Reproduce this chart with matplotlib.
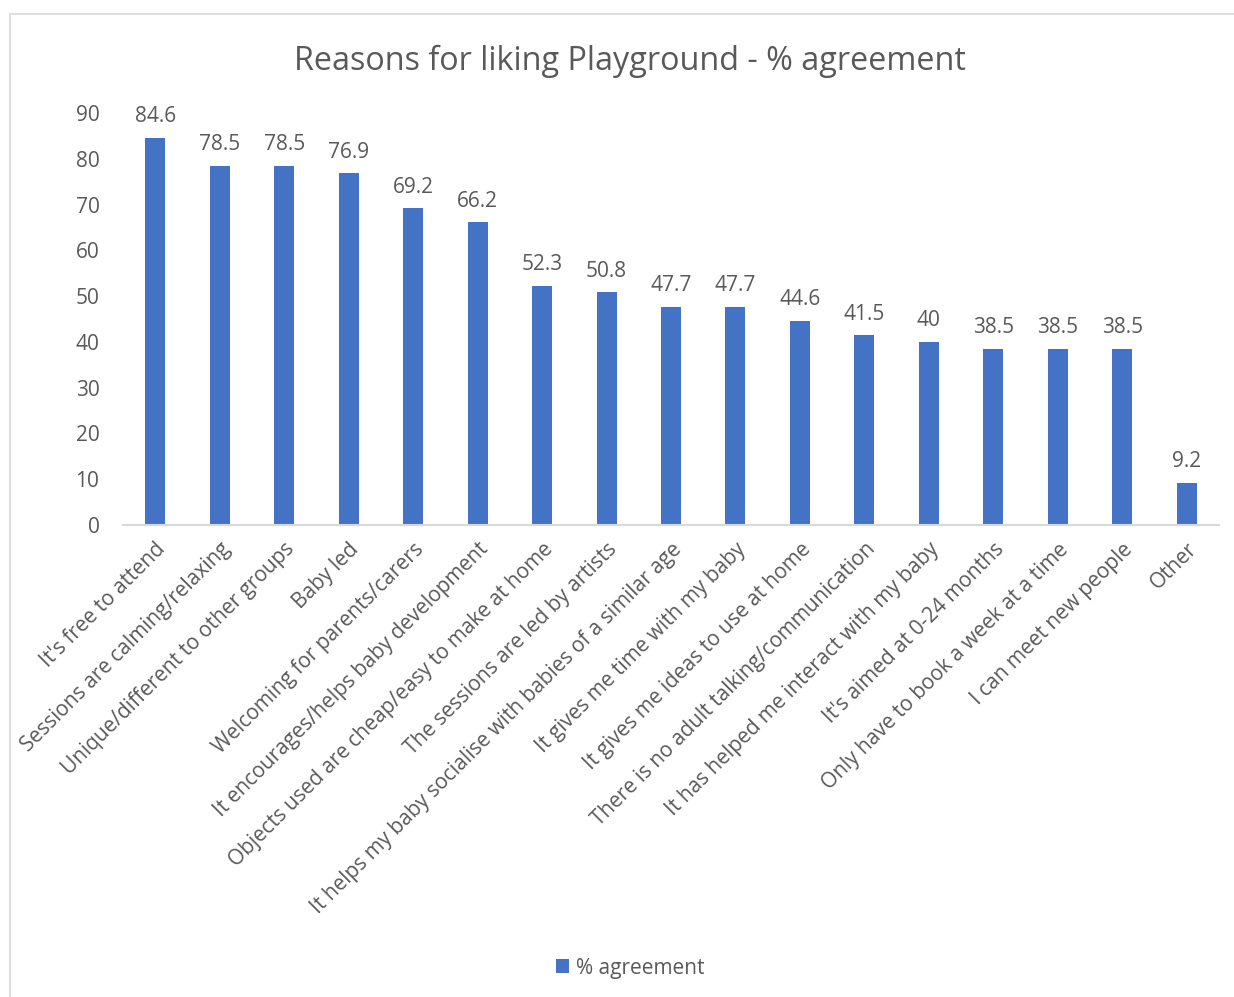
import matplotlib.pyplot as plt
import matplotlib.transforms as mtransforms
from matplotlib.patches import Rectangle

plt.rcParams['font.family'] = ['Open Sans', 'DejaVu Sans']

reasons = [
    "It's free to attend",
    "Sessions are calming/relaxing",
    "Unique/different to other groups",
    "Baby led",
    "Welcoming for parents/carers",
    "It encourages/helps baby development",
    "Objects used are cheap/easy to make at home",
    "The sessions are led by artists",
    "It helps my baby socialise with babies of a similar age",
    "It gives me time with my baby",
    "It gives me ideas to use at home",
    "There is no adult talking/communication",
    "It has helped me interact with my baby",
    "It's aimed at 0-24 months",
    "Only have to book a week at a time",
    "I can meet new people",
    "Other",
]
agreement = [84.6, 78.5, 78.5, 76.9, 69.2, 66.2, 52.3, 50.8, 47.7, 47.7,
             44.6, 41.5, 40, 38.5, 38.5, 38.5, 9.2]
value_labels = ["84.6", "78.5", "78.5", "76.9", "69.2", "66.2", "52.3", "50.8",
                "47.7", "47.7", "44.6", "41.5", "40", "38.5", "38.5", "38.5", "9.2"]
yticks = [0, 10, 20, 30, 40, 50, 60, 70, 80, 90]

text_grey = '#595959'
bar_blue = '#4472C4'
fs = 15

fig = plt.figure(figsize=(12.34, 9.97), dpi=100)
fig.patch.set_facecolor('white')

# chart border (left and top edges visible)
fig.patches.append(Rectangle((10 / 1234, -0.2), 2.0, 1.2 - 14 / 997,
                             transform=fig.transFigure, fill=False,
                             edgecolor='#d9d9d9', linewidth=1.2))

ax = fig.add_axes([123 / 1234, 1 - 525 / 997, (1219 - 123) / 1234, (525 - 113) / 997])

x = list(range(len(reasons)))
bars = ax.bar(x, agreement, width=0.31, color=bar_blue, label='% agreement', zorder=2)

for xi, v, lab in zip(x, agreement, value_labels):
    ax.annotate(lab, (xi, v), xytext=(0, 7.5), textcoords='offset points',
                ha='center', va='bottom', fontsize=fs, color=text_grey)

ax.set_xlim(-0.5, len(reasons) - 0.5)
ax.set_ylim(0, 90)
ax.set_yticks(yticks)
ax.set_yticklabels([str(t) for t in yticks], fontsize=fs, color=text_grey)

ax.set_xticks(x)
ax.set_xticklabels(reasons, rotation=45, ha='right', va='top',
                   rotation_mode='anchor', fontsize=fs, color=text_grey)
shift = mtransforms.ScaledTranslation(7 / 72, 0, fig.dpi_scale_trans)
for lbl in ax.get_xticklabels():
    lbl.set_transform(lbl.get_transform() + shift)

ax.tick_params(axis='both', length=0)
ax.tick_params(axis='y', pad=17)
ax.tick_params(axis='x', pad=10)

for side in ['top', 'right', 'left']:
    ax.spines[side].set_visible(False)
ax.spines['bottom'].set_color('#d9d9d9')
ax.spines['bottom'].set_linewidth(1.5)

fig.text(630 / 1234, 1 - 61 / 997, 'Reasons for liking Playground - % agreement',
         ha='center', va='center', fontsize=23.3, color=text_grey)

leg = fig.legend(handles=[bars], labels=['% agreement'], loc='center',
                 bbox_to_anchor=(630 / 1234, 1 - 968 / 997), frameon=False,
                 fontsize=fs, handlelength=0.65, handleheight=0.65, handletextpad=0.3)
for t in leg.get_texts():
    t.set_color(text_grey)

fig.savefig('out.png', dpi=100, facecolor='white')
